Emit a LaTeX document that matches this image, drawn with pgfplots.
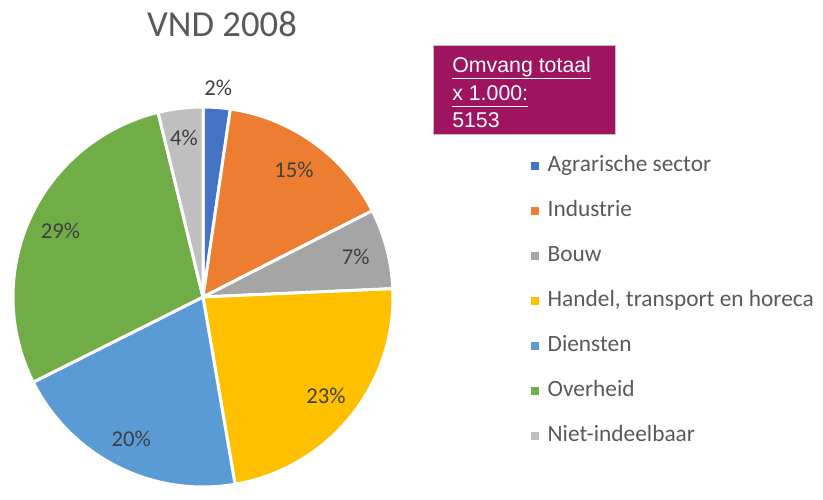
\documentclass[border=0pt]{standalone}
\usepackage{pgfplots}
\pgfplotsset{compat=1.18}
\usepackage{pgfplotstable}
\usepackage{fontspec}
\setmainfont{Carlito}
\newfontfamily\arialf{Liberation Sans}
\definecolor{s0}{HTML}{4472C4}
\definecolor{s1}{HTML}{ED7D31}
\definecolor{s2}{HTML}{A5A5A5}
\definecolor{s3}{HTML}{FFC000}
\definecolor{s4}{HTML}{5B9BD5}
\definecolor{s5}{HTML}{70AD47}
\definecolor{s6}{HTML}{BFBFBF}
\definecolor{txt}{HTML}{595959}
\definecolor{lbl}{HTML}{404040}
\definecolor{boxc}{HTML}{9E1460}
\newcommand\ulw[1]{\setbox0\hbox{#1}\rlap{\color{white}\rule[-4.3pt]{\wd0}{0.8pt}}\box0}
% share (%) and label distance from centre (px)
\pgfplotstableread{
value lr
2.3   210
15.2  156
6.8   158
23.0  158
20.3  159
28.6  157
3.8   160
}\piedata
\begin{document}
\begin{tikzpicture}
\gdef\cum{90}%
\foreach \i in {0,...,6}{%
  \pgfplotstablegetelem{\i}{value}\of\piedata
  \pgfmathsetmacro\v{\pgfplotsretval}%
  \pgfplotstablegetelem{\i}{lr}\of\piedata
  \pgfmathsetmacro\r{\pgfplotsretval}%
  \pgfmathsetmacro\e{\cum-3.6*\v}%
  \pgfmathsetmacro\m{(\cum+\e)/2}%
  \pgfmathsetmacro\lx{203+\r*cos(\m)}%
  \pgfmathsetmacro\ly{191+\r*sin(\m)}%
  \pgfmathtruncatemacro\p{round(\v)}%
  \expandafter\xdef\csname sA\i\endcsname{\cum}%
  \expandafter\xdef\csname eA\i\endcsname{\e}%
  \expandafter\xdef\csname lx\i\endcsname{\lx}%
  \expandafter\xdef\csname ly\i\endcsname{\ly}%
  \expandafter\xdef\csname pc\i\endcsname{\p}%
  \xdef\cum{\e}%
}%
\begin{axis}[
  width=617.25pt, height=366pt, scale only axis,
  xmin=0, xmax=823, ymin=0, ymax=488,
  hide axis, clip=false,
  legend cell align=left,
  legend image code/.code={\fill[#1, draw=none] (0pt,-3pt) rectangle (6pt,3pt);},
  legend style={at={(axis cs:527,334)}, anchor=north west, draw=none, fill=none,
    font=\fontsize{17.5}{20}\selectfont, text=txt, row sep=19.75pt,
    nodes={inner sep=0pt, text height=11pt, text depth=3pt},
    /tikz/every odd column/.append style={column sep=6.3pt}},
]
\path (axis cs:0,0) rectangle (axis cs:823,488);
\pgfplotsinvokeforeach{0,...,6}{%
  \edef\tmp{\noexpand\filldraw[fill=s#1, draw=white, line width=2.25pt, line join=round]
    (axis cs:203,191) -- ++(\csname sA#1\endcsname:142.5pt)
    arc[start angle=\csname sA#1\endcsname, end angle=\csname eA#1\endcsname, radius=142.5pt] -- cycle;}\tmp
  \edef\tmp{\noexpand\node[text=lbl, font=\noexpand\fontsize{17}{20}\noexpand\selectfont]
    at (axis cs:\csname lx#1\endcsname,\csname ly#1\endcsname) {\csname pc#1\endcsname\noexpand\%};}\tmp
}
\addlegendimage{fill=s0}\addlegendentry{Agrarische sector}
\addlegendimage{fill=s1}\addlegendentry{Industrie}
\addlegendimage{fill=s2}\addlegendentry{Bouw}
\addlegendimage{fill=s3}\addlegendentry{Handel, transport en horeca}
\addlegendimage{fill=s4}\addlegendentry{Diensten}
\addlegendimage{fill=s5}\addlegendentry{Overheid}
\addlegendimage{fill=s6}\addlegendentry{Niet-indeelbaar}
% title
\node[text=txt, font=\fontsize{27.5}{32}\selectfont] at (axis cs:222,464) {VND 2008};
% box
\filldraw[fill=boxc, draw=black!25, line width=0.75pt] (axis cs:433,442) rectangle (axis cs:615,353);
\node[anchor=base west, inner sep=0pt, text=white, font=\arialf\fontsize{16}{18}\selectfont] at (axis cs:452,415) {\ulw{Omvang totaal}};
\node[anchor=base west, inner sep=0pt, text=white, font=\arialf\fontsize{16}{18}\selectfont] at (axis cs:452,387) {\ulw{x 1.000:}};
\node[anchor=base west, inner sep=0pt, text=white, font=\arialf\fontsize{16}{18}\selectfont] at (axis cs:452,360) {5153};
\end{axis}
\end{tikzpicture}
\end{document}
